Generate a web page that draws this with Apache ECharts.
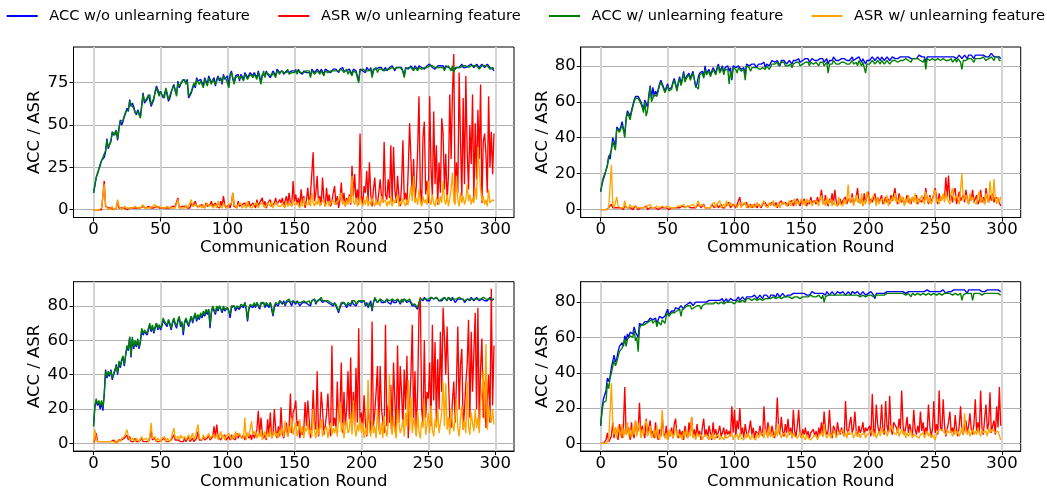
<!DOCTYPE html>
<html>
<head>
<meta charset="utf-8">
<script src="https://cdn.jsdelivr.net/npm/echarts@6/dist/echarts.min.js"></script>
<style>html,body{margin:0;padding:0;background:#fff;}#main{width:1047px;height:491px;}</style>
</head>
<body>
<div id="main"></div>
<script>
// ---------- DATA ----------
const seriesNames = ['ACC w/o unlearning feature', 'ASR w/o unlearning feature', 'ACC w/ unlearning feature', 'ASR w/ unlearning feature'];
const xTicks = [0, 50, 100, 150, 200, 250, 300];
const yTicksP1 = [0, 25, 50, 75];
const yTicksOther = [0, 20, 40, 60, 80];
const xTitle = 'Communication Round';
const yTitle = 'ACC / ASR';

// Panel 1 (top-left)
const p1AccWo = [
10,14,19,21,22,27,29,30,31,34,42,36,37,41,46,44,45,47,41,48,
53,50,52,55,57,60,58,65,61,63,61,58,56,59,58,55,62,69,63,64,
65,68,69,61,63,65,70,73,71,68,70,69,66,67,71,70,64,66,69,72,
74,70,68,76,72,74,75,77,76,75,77,66,67,69,70,74,72,78,76,75,
77,75,73,78,76,74,79,77,75,76,78,73,77,79,76,78,74,80,77,78,
79,73,80,82,77,75,79,78,80,76,80,79,77,81,80,78,79,81,80,79,
81,80,78,82,79,75,80,81,79,82,80,81,78,80,82,81,79,83,82,81,
81,82,80,81,82,82,81,80,82,81,82,82,81,83,81,82,80,82,83,81,
82,81,79,83,82,81,82,83,82,81,83,82,80,83,82,82,83,81,82,83,
82,83,82,81,83,82,84,82,83,82,81,83,82,80,83,82,82,81,76,83,
84,82,83,81,84,83,82,84,79,83,84,83,82,84,83,84,82,83,84,82,
83,84,83,85,84,82,84,83,84,85,84,83,79,84,85,83,84,85,84,83,
85,84,83,85,84,84,85,83,84,85,84,86,85,84,85,83,84,85,84,85,
84,85,83,85,86,84,85,83,84,82,83,84,85,84,85,86,84,85,84,85,
85,84,86,85,84,85,86,85,84,85,86,85,84,85,86,85,84,85,83,82];
const p1AsrWo = [
0,0,0,0,0,0,0,1,17,2,1,1,0,1,1,0,1,1,5,1,
1,1,2,1,1,0,1,1,2,1,1,1,2,1,1,1,1,2,1,1,
1,2,1,1,2,1,1,2,1,1,1,1,2,1,1,1,2,1,1,2,
1,2,3,7,1,1,2,1,2,3,1,2,1,4,2,1,5,2,1,2,
1,3,2,1,4,2,1,3,5,2,1,4,2,3,1,5,2,8,3,1,
2,3,1,4,10,2,3,1,5,2,1,3,2,4,1,3,5,2,1,4,
3,1,6,2,4,3,7,2,5,1,4,3,6,2,1,4,7,3,2,6,
4,7,2,5,8,3,10,4,2,17,5,9,3,7,2,12,4,8,1,6,
13,3,9,8,34,5,10,20,4,8,3,19,6,2,13,4,9,2,5,10,
14,3,8,1,6,16,4,10,2,7,4,9,3,26,8,21,5,12,3,45,
8,3,14,10,23,5,28,9,2,12,19,6,3,10,18,8,4,40,9,6,
18,7,38,3,37,12,4,20,8,2,15,41,6,10,3,24,51,30,8,30,
5,14,35,67,12,3,43,52,9,17,4,67,25,8,58,15,38,3,28,10,
54,45,12,33,5,20,68,30,69,92,4,28,10,81,40,8,66,15,79,35,
12,50,27,68,6,51,18,59,30,74,4,40,45,33,10,67,25,46,21,45];
const p1AccW = [
10,15,19,22,23,26,29,31,30,35,41,37,38,40,46,45,44,47,42,48,
52,51,53,54,58,59,59,64,62,62,60,57,57,58,57,54,61,68,64,63,
66,67,68,62,62,66,69,72,72,67,70,68,67,66,72,69,65,65,70,71,
73,71,67,75,73,73,76,76,77,74,76,67,66,70,69,75,73,77,77,74,
76,76,72,77,77,73,78,78,74,77,77,74,76,78,77,77,75,79,78,77,
78,72,79,81,78,74,78,79,79,77,79,80,76,80,81,77,78,80,81,78,
80,81,77,81,80,74,79,82,78,81,81,80,79,79,81,82,78,82,83,80,
82,81,81,80,81,83,80,81,81,82,81,83,80,82,82,81,81,81,82,82,
81,82,78,82,83,80,81,82,83,80,82,83,79,82,83,81,82,82,81,82,
83,82,81,82,82,83,83,81,82,83,80,82,83,79,82,83,81,82,75,82,
83,83,82,82,83,82,83,83,78,82,83,84,81,83,84,83,83,82,83,83,
82,83,84,84,83,83,83,84,83,84,85,82,78,83,84,84,83,84,85,82,
84,85,82,84,85,83,84,84,83,84,85,85,84,85,84,84,83,84,85,84,
85,84,82,84,85,85,84,82,85,81,84,83,84,85,84,85,85,84,85,84,
84,85,85,84,85,84,85,86,83,84,85,84,85,84,85,86,83,84,84,83];
const p1AsrW = [
0,0,0,0,0,0,1,1,15,3,1,1,0,1,2,0,1,1,6,2,
1,0,1,2,1,1,0,1,2,1,1,2,1,1,2,1,1,3,1,1,
1,2,1,1,2,1,3,1,1,2,1,1,2,1,1,2,1,1,2,1,
2,1,2,6,1,2,1,2,1,3,1,2,4,6,2,1,3,2,1,3,
2,1,3,1,2,4,2,1,3,1,2,3,1,5,2,3,1,4,2,3,
1,3,2,4,10,3,2,1,3,2,4,1,2,3,1,5,2,3,1,2,
3,2,4,1,3,2,4,3,1,2,4,3,2,5,1,3,2,4,2,3,
2,4,3,1,5,2,3,4,2,6,3,2,4,3,1,5,2,7,3,4,
3,6,2,10,4,2,5,3,7,2,4,3,6,2,3,5,2,4,3,6,
3,2,5,4,7,10,3,5,2,6,3,8,4,20,5,3,7,2,5,8,
4,2,6,3,8,2,5,3,7,4,2,6,3,5,2,8,4,3,6,2,
5,3,8,2,6,4,3,9,2,5,3,7,4,2,6,3,8,14,5,20,
4,7,3,12,5,2,8,4,6,3,17,5,3,9,4,2,7,5,3,8,
4,17,6,3,9,2,7,12,22,5,3,20,6,2,10,4,8,3,6,15,
5,9,3,7,4,13,6,37,38,12,5,8,3,6,2,12,4,3,6,5];

// Panel 2 (top-right)
const p2AccWo = [
10,14,17,19,20,25,30,28,34,40,38,35,46,45,44,46,49,45,42,51,
55,54,52,55,58,61,63,64,63,62,60,59,56,61,60,57,64,69,62,68,
63,66,64,67,70,72,70,69,66,68,70,67,66,68,71,73,70,67,71,74,
70,73,77,72,74,75,76,73,75,77,77,68,70,74,76,75,77,74,80,76,
76,78,75,77,79,78,76,79,81,77,78,80,76,79,78,80,77,79,72,80,
81,79,78,80,81,78,77,79,74,81,82,80,79,81,80,81,79,80,81,80,
81,80,82,79,81,82,80,81,83,82,82,81,83,82,80,83,82,83,82,81,
82,83,82,81,83,82,83,82,84,82,82,83,82,84,83,84,82,83,84,83,
83,84,83,82,84,83,84,82,83,84,81,83,84,83,85,84,83,84,83,84,
84,83,84,85,83,84,83,84,85,83,84,84,83,85,84,82,84,83,81,83,
84,83,84,85,84,83,84,85,84,83,85,84,83,84,85,84,83,84,85,84,
84,85,84,83,85,84,85,84,85,84,85,86,84,85,84,85,84,85,86,85,
85,84,85,82,85,86,85,84,85,86,85,84,85,86,85,84,85,86,85,84,
85,86,85,84,85,86,84,85,86,85,84,85,86,85,84,86,85,86,85,84,
86,85,86,85,86,85,86,87,85,86,85,86,87,86,85,86,85,86,85,84];
const p2AsrWo = [
0,0,0,0,0,0,1,0,3,1,0,1,2,1,0,1,1,0,2,1,
1,0,1,1,0,1,2,1,0,1,1,0,1,1,2,0,1,1,2,1,
0,1,1,0,1,1,0,1,0,1,1,0,1,1,0,1,1,1,0,1,
1,2,1,1,0,2,1,1,2,1,2,1,1,3,2,1,2,3,1,2,
1,2,1,3,2,1,2,3,1,2,3,1,2,1,3,2,4,1,2,3,
2,1,3,2,7,2,1,3,2,4,1,2,3,1,2,3,2,1,3,2,
1,3,2,4,2,1,3,2,4,3,2,4,1,3,2,5,3,2,4,3,
2,4,3,5,2,4,3,6,4,2,5,3,6,4,2,5,3,7,4,3,
5,3,7,4,6,11,5,3,8,4,2,6,4,9,3,11,5,2,4,6,
3,5,4,7,3,6,5,4,9,3,5,7,12,4,3,6,2,9,4,5,
10,3,6,4,5,9,3,7,4,6,8,3,5,7,4,6,3,8,5,4,
12,5,3,9,6,4,7,3,5,8,4,6,3,7,5,4,8,3,6,5,
4,7,5,12,6,3,8,4,6,5,12,7,3,9,5,4,8,6,18,7,
19,5,8,4,10,12,3,7,10,5,6,8,4,11,6,3,7,5,11,4,
6,8,3,5,11,4,7,3,12,6,4,8,5,9,4,7,8,6,4,2];
const p2AccW = [
10,15,18,20,19,24,29,29,33,38,39,33,45,44,43,45,47,44,40,50,
54,53,50,54,57,60,62,63,62,61,59,57,54,60,52,55,62,68,60,62,
64,65,63,66,69,71,69,68,65,67,69,66,65,67,70,72,69,66,70,73,
69,72,76,71,73,74,75,72,74,76,76,69,70,67,75,74,76,73,78,75,
75,77,74,76,78,77,75,78,80,76,77,79,75,78,77,78,70,77,73,79,
79,78,76,79,80,77,76,78,72,80,80,79,77,79,78,79,78,79,80,78,
79,79,80,78,80,81,78,79,81,80,81,80,82,80,79,82,81,82,80,80,
80,81,81,79,81,80,82,81,82,80,81,81,80,82,81,82,80,82,81,81,
81,82,81,80,82,81,82,80,81,82,76,81,82,81,83,82,81,82,81,82,
82,81,82,83,81,82,81,82,83,81,82,82,80,83,82,80,82,81,76,81,
82,81,82,83,82,81,82,83,82,81,83,82,81,82,83,82,81,82,83,82,
83,83,82,81,83,82,83,82,84,83,83,84,82,84,83,84,83,84,84,83,
83,82,84,78,84,84,83,82,84,84,83,82,84,84,83,82,84,84,83,82,
83,84,84,82,83,84,82,84,84,82,78,83,84,83,82,84,84,84,83,82,
84,83,84,83,84,84,85,85,83,84,84,85,85,84,83,85,84,85,83,83];
const p2AsrW = [
0,0,0,0,0,0,1,1,25,3,1,2,7,2,1,1,2,1,5,1,
2,1,3,1,1,2,1,1,2,1,1,1,2,1,1,2,1,3,1,1,
1,1,2,1,1,1,2,1,1,1,2,1,1,1,1,2,1,1,2,1,
2,1,3,1,1,2,1,2,1,3,2,1,1,5,2,1,3,4,1,2,
1,2,1,3,2,4,1,3,2,5,1,2,3,1,5,2,1,4,2,3,
3,2,1,2,4,1,3,2,4,1,2,3,1,2,3,1,2,4,2,3,
2,3,5,2,3,1,4,2,3,5,2,3,2,4,1,3,2,4,3,2,
3,5,2,4,3,6,2,5,3,4,6,3,5,2,6,4,3,5,2,4,
3,5,4,2,6,8,3,5,2,7,3,4,6,2,5,3,4,2,7,3,
4,2,6,3,5,14,4,3,7,2,5,8,4,6,3,9,2,5,3,10,
7,3,5,4,8,6,2,7,3,5,4,6,3,5,8,2,6,4,7,5,
9,4,6,3,8,5,7,2,6,4,8,3,5,7,4,9,3,6,4,5,
8,5,3,10,6,4,7,3,5,9,11,4,6,3,7,5,9,4,10,6,
7,3,9,12,5,4,8,6,3,11,20,5,4,8,6,3,9,5,7,4,
5,3,8,10,4,7,5,3,9,6,4,16,8,5,17,6,3,7,4,7];

// Panel 3 (bottom-left)
const p3AccWo = [
10,21,25,22,24,20,24,19,28,43,38,41,39,43,37,40,42,46,40,47,
44,48,50,45,51,56,54,62,50,61,55,59,56,60,55,59,66,63,65,64,
63,66,69,65,68,64,67,70,66,69,66,68,72,70,71,68,72,69,66,70,
72,69,67,71,73,68,70,63,70,72,73,68,71,74,70,73,75,71,74,72,
75,73,76,74,77,75,78,67,76,79,78,75,79,77,80,78,76,79,77,78,
79,77,73,79,78,80,77,79,80,78,80,81,79,82,78,71,78,80,81,79,
81,79,82,80,78,81,80,82,79,81,80,79,82,78,74,79,81,82,80,83,
82,81,83,80,82,81,83,82,80,83,82,81,83,82,80,81,82,83,82,81,
81,82,80,83,82,84,81,83,82,84,84,82,81,83,84,82,83,81,82,80,
82,80,78,76,79,81,80,82,81,79,81,82,80,83,81,82,80,81,83,82,
82,81,83,80,82,79,81,83,77,82,84,83,82,81,84,82,83,82,81,84,
82,83,81,84,82,83,82,84,83,81,83,82,84,83,82,81,83,82,80,79,
80,79,78,82,84,84,83,85,84,83,84,83,85,84,84,83,85,84,83,84,
83,84,85,84,83,85,84,83,85,84,82,83,84,85,84,83,84,82,83,84,
84,83,85,84,83,84,85,84,83,84,84,85,83,84,83,84,85,83,84,84];
const p3AsrWo = [
0,2,6,1,0,1,0,1,0,1,2,1,0,1,1,2,1,0,1,2,
1,2,1,3,2,5,2,4,1,2,1,3,1,2,1,2,3,1,2,1,
2,1,3,8,2,1,3,1,2,1,1,2,1,3,1,2,1,1,2,1,
5,2,1,2,3,1,2,1,3,1,2,4,1,2,3,1,2,3,7,2,
3,2,4,2,1,3,5,2,3,4,10,3,11,4,3,2,4,3,5,2,
3,4,2,5,3,4,2,6,3,5,4,3,5,2,4,6,3,5,2,7,
3,5,8,19,4,15,6,3,5,2,14,4,18,3,5,20,8,3,10,4,
21,6,3,8,12,4,9,29,6,18,20,25,10,13,3,8,5,8,24,10,
25,24,3,10,31,12,8,42,4,10,30,20,5,10,17,29,12,4,57,10,
15,8,36,12,20,47,6,30,10,20,42,14,50,8,30,10,44,12,67,10,
18,8,28,12,4,20,13,6,71,10,18,30,45,8,45,20,13,6,69,10,
22,12,34,8,47,25,5,57,12,45,30,10,43,20,51,3,22,40,69,12,
42,5,30,76,85,20,11,60,15,30,26,47,10,69,25,59,12,49,20,65,
30,79,62,40,68,38,15,9,25,36,12,36,68,20,46,55,8,20,35,46,
72,15,65,30,53,76,20,79,10,44,61,15,36,9,25,40,12,90,22,57];
const p3AccW = [
10,22,26,23,25,22,25,21,29,42,39,42,40,42,38,41,43,45,41,48,
45,49,51,46,52,57,55,62,51,62,56,60,57,61,56,60,67,64,66,65,
64,67,70,66,69,65,68,70,67,69,67,69,73,71,72,69,72,70,67,71,
73,70,68,72,74,69,71,65,71,73,74,69,72,74,71,74,76,72,75,73,
76,74,77,75,78,76,78,69,77,80,79,76,80,78,80,79,77,80,78,79,
79,78,75,80,79,80,78,80,81,79,81,82,80,82,79,72,79,81,82,80,
82,80,82,81,79,82,81,82,80,82,81,80,82,79,75,80,82,83,81,83,
83,82,83,81,83,82,84,82,81,83,83,82,83,82,81,82,83,83,82,82,
82,83,81,83,83,84,82,83,83,84,85,83,82,83,84,83,83,82,82,81,
82,81,79,77,80,82,81,82,82,80,82,83,81,83,82,83,81,82,83,82,
83,82,83,81,82,80,82,83,78,82,85,84,82,82,84,83,83,83,82,84,
83,83,82,84,83,83,83,84,84,82,84,82,84,83,83,82,84,83,81,80,
81,80,79,82,84,84,84,85,84,84,84,84,85,84,84,84,85,85,83,84,
84,84,85,85,83,85,84,84,85,84,83,84,85,85,84,84,84,83,83,84,
84,84,85,84,84,84,85,84,84,84,85,85,84,84,84,84,85,84,84,84];
const p3AsrW = [
0,8,3,1,0,1,0,1,0,1,2,1,0,1,2,1,1,0,2,1,
1,3,2,4,3,8,4,2,1,3,2,1,3,2,1,2,4,2,1,3,
2,1,4,12,3,2,4,1,3,2,1,3,2,4,1,3,2,1,3,2,
9,3,2,4,2,5,3,2,4,2,3,5,2,3,6,2,4,3,11,3,
4,2,5,3,2,4,6,3,2,5,4,3,6,2,4,7,3,5,2,4,
3,6,4,2,5,3,7,4,3,6,4,5,3,15,2,6,4,3,13,5,
4,7,3,6,4,8,2,5,7,3,6,4,9,3,5,7,4,6,3,8,
5,9,4,13,7,4,10,6,15,5,9,12,4,8,14,6,10,3,9,7,
13,5,8,4,20,7,3,11,5,9,14,4,7,6,10,3,8,12,5,9,
6,10,4,15,24,7,12,3,9,14,6,8,18,5,25,9,4,11,7,15,
6,12,3,9,5,37,8,4,14,6,10,3,20,7,5,12,3,16,8,4,
11,40,9,5,16,7,3,20,12,6,9,14,4,18,10,37,8,27,6,15,
10,4,19,7,3,13,9,26,5,11,18,6,22,8,4,14,9,20,6,12,
18,36,10,35,8,15,5,20,12,7,16,26,9,4,14,22,8,13,6,36,
10,5,18,12,7,20,9,15,6,24,30,42,14,58,8,22,16,12,20,11];

// Panel 4 (bottom-right)
const p4AccWo = [
10,20,25,24,30,37,35,38,43,42,50,46,48,52,55,54,57,55,61,58,
62,60,63,64,62,66,63,62,60,68,69,67,68,69,70,69,70,71,72,70,
70,71,68,70,72,73,71,72,72,74,76,73,74,75,76,75,77,76,76,77,
78,77,76,78,79,79,78,80,79,78,79,80,79,80,79,80,79,80,81,80,
80,81,80,81,80,81,82,81,80,81,81,82,80,81,82,80,81,82,81,81,
82,81,82,83,81,82,83,82,81,83,82,83,82,83,82,84,83,82,83,84,
83,82,84,83,84,83,82,84,83,84,84,83,85,84,83,84,85,84,83,84,
84,85,84,83,85,84,85,84,85,84,85,84,85,85,84,85,84,85,86,85,
85,84,85,86,85,84,85,85,84,86,85,84,85,86,85,84,85,86,85,85,
85,86,85,84,85,86,85,84,86,85,85,84,86,85,84,85,86,85,84,85,
85,84,86,85,84,82,85,86,85,86,85,86,85,86,86,85,86,85,86,86,
86,85,86,87,86,85,86,86,85,86,86,85,86,87,86,85,86,87,86,85,
86,87,86,85,87,86,86,85,86,87,86,85,86,87,86,86,87,86,85,86,
86,87,86,85,87,86,87,86,87,86,87,86,87,86,85,87,86,87,86,87,
86,87,86,87,86,86,87,86,87,87,86,87,86,87,86,87,86,87,87,86];
const p4AsrWo = [
0,0,0,0,2,6,1,0,4,12,3,9,5,2,11,7,3,10,32,5,
4,9,2,12,6,3,13,5,8,23,4,10,6,3,14,5,9,13,4,7,
3,12,5,2,8,4,15,6,3,10,2,7,4,9,3,11,14,5,3,8,
4,7,2,10,5,3,12,6,15,4,8,3,11,5,7,2,9,14,4,8,
3,10,6,2,12,5,8,3,7,10,4,6,9,3,8,5,7,4,21,6,
19,4,13,8,20,5,9,3,11,6,4,8,13,5,9,3,7,8,5,10,
6,4,21,8,5,12,7,4,10,6,3,9,26,8,5,15,7,4,11,6,
14,5,9,3,19,7,4,10,19,6,3,8,5,9,4,7,3,6,5,8,
4,7,3,9,5,12,4,18,8,5,7,19,6,3,10,8,4,12,7,5,
9,6,4,24,8,5,11,15,6,9,18,7,4,10,6,8,12,5,9,7,
6,10,4,28,8,5,22,11,6,9,22,7,5,24,10,6,27,8,5,12,
12,9,6,14,8,30,10,5,9,15,6,11,7,4,19,8,5,10,6,18,
7,12,5,9,6,22,10,4,8,24,6,11,5,30,9,7,25,10,4,8,
12,18,6,9,5,16,8,4,10,21,7,5,9,13,6,10,17,8,5,11,
25,7,12,6,30,9,5,14,22,8,11,29,6,10,13,5,21,9,32,10];
const p4AccW = [
10,18,23,24,24,34,31,37,40,41,47,44,46,49,52,53,54,53,59,55,
59,58,61,62,60,64,58,60,52,65,67,66,67,68,68,67,69,70,70,68,
69,70,66,69,70,67,70,71,68,72,74,72,73,74,75,74,75,75,74,76,
72,76,75,77,77,78,77,78,76,77,77,78,78,79,78,76,78,79,79,79,
79,80,79,80,79,80,80,80,79,80,80,81,79,80,80,79,80,80,80,80,
79,80,81,81,80,81,81,81,80,82,81,82,81,81,81,82,82,81,82,82,
82,81,82,82,82,82,81,82,82,83,82,82,83,83,82,82,83,83,82,83,
83,83,83,82,83,83,83,83,83,82,82,83,84,83,82,83,83,84,84,83,
84,83,83,84,83,82,84,80,83,84,84,83,84,84,84,83,84,84,84,84,
84,84,84,83,84,84,84,83,84,84,84,83,84,84,83,84,84,84,83,84,
84,83,84,84,83,82,84,84,84,84,84,85,84,84,85,84,85,84,85,85,
85,84,85,85,85,84,85,85,84,85,85,84,83,85,85,84,85,85,85,84,
85,85,85,84,85,85,85,84,85,85,85,84,85,85,85,84,85,85,84,85,
85,85,85,84,85,85,85,84,85,85,81,84,85,85,84,85,84,85,81,85,
85,85,85,85,85,84,85,85,85,85,85,85,85,85,85,85,84,85,85,84];
const p4AsrW = [
0,0,0,0,0,1,2,3,34,12,5,9,3,10,6,4,11,3,8,5,
12,4,8,3,10,5,13,4,9,12,3,8,5,11,13,4,6,10,3,5,
8,3,10,4,2,7,19,5,3,6,2,8,4,7,3,5,9,4,6,3,
5,2,7,4,8,3,6,4,15,3,5,2,6,4,3,5,2,4,3,5,
4,2,5,3,6,2,4,3,5,2,4,3,2,5,3,2,4,3,6,2,
4,3,5,2,6,3,4,2,5,3,6,4,2,5,3,4,2,6,3,5,
4,6,3,8,5,3,10,4,6,3,5,8,4,11,7,3,5,4,6,3,
5,4,7,3,6,4,5,3,4,6,3,5,4,2,5,3,4,2,3,4,
3,5,2,4,3,6,4,11,5,3,4,6,3,5,4,7,3,5,4,6,
5,8,4,6,3,7,5,4,6,3,5,7,4,6,3,5,4,6,3,5,
4,6,5,8,4,6,3,5,7,4,9,6,5,7,4,6,5,10,8,6,
7,5,9,4,6,8,5,7,3,6,4,5,7,3,5,6,4,5,3,5,
4,6,3,5,7,4,6,3,5,4,2,5,7,6,8,9,7,6,5,8,
6,5,7,4,6,8,5,7,4,6,9,5,17,7,5,8,4,6,8,5,
7,5,9,6,4,8,6,5,7,4,9,6,5,8,7,6,5,7,6,2];

// ---------- CHART ----------
const panels = [
  [p1AccWo, p1AsrWo, p1AccW, p1AsrW],
  [p2AccWo, p2AsrWo, p2AccW, p2AsrW],
  [p3AccWo, p3AsrWo, p3AccW, p3AsrW],
  [p4AccWo, p4AsrWo, p4AccW, p4AsrW]
];
panels.forEach((p, pi) => p.forEach((a, si) => {
  if (a.length !== 300) throw new Error('panel ' + (pi + 1) + ' series ' + si + ' has ' + a.length);
}));

const FONT = 'DejaVu Sans';
const colors = ['#0000ff', '#ff0000', '#008000', '#ffa500'];
const legendLefts = [6.7, 278.3, 549, 811.5];
const gridBoxes = [
  {left: 73.5, top: 47, width: 440.5, height: 170.5},
  {left: 580.7, top: 47, width: 440, height: 170.5},
  {left: 73.5, top: 281.7, width: 440.5, height: 170},
  {left: 580.7, top: 281.7, width: 440, height: 170}
];
const yRanges = [[-4.6, 96.1], [-4.4, 90.5], [-4.48, 94.1], [-4.36, 91.6]];
const yTickSets = [yTicksP1, yTicksOther, yTicksOther, yTicksOther];

const labelStyle = {fontFamily: FONT, fontSize: 16.5, color: '#000'};

const grid = gridBoxes.map(g => Object.assign({show: true, borderColor: '#000', borderWidth: 1, backgroundColor: 'transparent', containLabel: false}, g));
const xAxis = gridBoxes.map((g, i) => ({
  type: 'value', gridIndex: i, min: -14.95, max: 313.95,
  name: xTitle, nameLocation: 'middle', nameGap: 20,
  nameTextStyle: labelStyle,
  axisLine: {show: true, onZero: false, lineStyle: {color: '#000', width: 1}},
  axisTick: {show: true, inside: false, length: 4, customValues: xTicks, lineStyle: {color: '#000', width: 1}},
  axisLabel: Object.assign({customValues: xTicks, margin: 4}, labelStyle),
  splitLine: {show: true, lineStyle: {color: '#d3d3d3', width: 2}}
}));
const yAxis = gridBoxes.map((g, i) => ({
  type: 'value', gridIndex: i, min: yRanges[i][0], max: yRanges[i][1],
  name: yTitle, nameLocation: 'middle', nameGap: 26, nameRotate: 90,
  nameTextStyle: labelStyle,
  axisLine: {show: true, onZero: false, lineStyle: {color: '#000', width: 1}},
  axisTick: {show: true, inside: false, length: 4, customValues: yTickSets[i], lineStyle: {color: '#000', width: 1}},
  axisLabel: Object.assign({customValues: yTickSets[i], margin: 5}, labelStyle),
  splitLine: {show: true, lineStyle: {color: '#b0b0b0', width: 1}}
}));

const series = [];
panels.forEach((p, pi) => {
  p.forEach((arr, si) => {
    series.push({
      name: seriesNames[si], type: 'line', xAxisIndex: pi, yAxisIndex: pi,
      data: arr.map((v, r) => [r, v]),
      showSymbol: false, symbol: 'none', silent: true,
      color: colors[si],
      lineStyle: {color: colors[si], width: 1.35},
      z: 2 + si
    });
  });
});

const legend = seriesNames.map((n, i) => ({
  data: [{name: n, icon: 'rect', itemStyle: {color: colors[i]}}],
  left: legendLefts[i] - 5, top: 3.5, itemWidth: 31, itemHeight: 2,
  selectedMode: false,
  textStyle: {fontFamily: FONT, fontSize: 14.6, color: '#000', padding: [0, 0, 0, 6.6]}
}));

const chart = echarts.init(document.getElementById('main'), null, {renderer: 'canvas'});
chart.setOption({
  animation: false,
  backgroundColor: '#fff',
  legend: legend,
  grid: grid,
  xAxis: xAxis,
  yAxis: yAxis,
  series: series
});
</script>
</body>
</html>
